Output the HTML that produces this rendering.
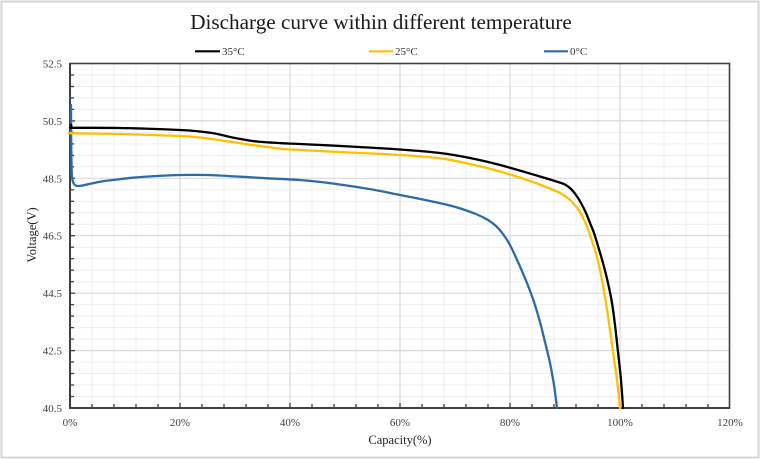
<!DOCTYPE html>
<html><head><meta charset="utf-8"><style>
html,body{margin:0;padding:0;background:#fff;}
svg{display:block;}
</style></head><body>
<svg id="chart" width="761" height="459" viewBox="0 0 761 459" xmlns="http://www.w3.org/2000/svg">
<rect x="0" y="0" width="761" height="459" fill="#fff"/>
<rect x="1.5" y="1.5" width="757" height="456" fill="none" stroke="#d6d6d6" stroke-width="2"/>
<text x="381" y="29" text-anchor="middle" font-family="Liberation Serif, serif" font-size="21.2" fill="#1a1a1a">Discharge curve within different temperature</text>
<!-- legend -->
<line x1="195" y1="51.3" x2="220" y2="51.3" stroke="#000" stroke-width="2.2"/>
<text x="222" y="55" font-family="Liberation Serif, serif" font-size="11" fill="#333">35°C</text>
<line x1="369" y1="51.3" x2="393" y2="51.3" stroke="#FFC000" stroke-width="2.2"/>
<text x="395" y="55" font-family="Liberation Serif, serif" font-size="11" fill="#333">25°C</text>
<line x1="544" y1="51.3" x2="568" y2="51.3" stroke="#2E6BA6" stroke-width="2.2"/>
<text x="570" y="55" font-family="Liberation Serif, serif" font-size="11" fill="#333">0°C</text>
<!-- grid -->
<g stroke="#efefef" stroke-width="1">
<line x1="92" y1="63.5" x2="92" y2="408"/><line x1="114" y1="63.5" x2="114" y2="408"/><line x1="136" y1="63.5" x2="136" y2="408"/><line x1="158" y1="63.5" x2="158" y2="408"/>
<line x1="202" y1="63.5" x2="202" y2="408"/><line x1="224" y1="63.5" x2="224" y2="408"/><line x1="246" y1="63.5" x2="246" y2="408"/><line x1="268" y1="63.5" x2="268" y2="408"/>
<line x1="312" y1="63.5" x2="312" y2="408"/><line x1="334" y1="63.5" x2="334" y2="408"/><line x1="356" y1="63.5" x2="356" y2="408"/><line x1="378" y1="63.5" x2="378" y2="408"/>
<line x1="422" y1="63.5" x2="422" y2="408"/><line x1="444" y1="63.5" x2="444" y2="408"/><line x1="466" y1="63.5" x2="466" y2="408"/><line x1="488" y1="63.5" x2="488" y2="408"/>
<line x1="532" y1="63.5" x2="532" y2="408"/><line x1="554" y1="63.5" x2="554" y2="408"/><line x1="576" y1="63.5" x2="576" y2="408"/><line x1="598" y1="63.5" x2="598" y2="408"/>
<line x1="642" y1="63.5" x2="642" y2="408"/><line x1="664" y1="63.5" x2="664" y2="408"/><line x1="686" y1="63.5" x2="686" y2="408"/><line x1="708" y1="63.5" x2="708" y2="408"/>
<line x1="70" y1="75" x2="729.5" y2="75"/><line x1="70" y1="86.5" x2="729.5" y2="86.5"/><line x1="70" y1="97.9" x2="729.5" y2="97.9"/><line x1="70" y1="109.4" x2="729.5" y2="109.4"/>
<line x1="70" y1="132.4" x2="729.5" y2="132.4"/><line x1="70" y1="143.9" x2="729.5" y2="143.9"/><line x1="70" y1="155.4" x2="729.5" y2="155.4"/><line x1="70" y1="166.8" x2="729.5" y2="166.8"/>
<line x1="70" y1="189.8" x2="729.5" y2="189.8"/><line x1="70" y1="201.3" x2="729.5" y2="201.3"/><line x1="70" y1="212.8" x2="729.5" y2="212.8"/><line x1="70" y1="224.2" x2="729.5" y2="224.2"/>
<line x1="70" y1="247.2" x2="729.5" y2="247.2"/><line x1="70" y1="258.7" x2="729.5" y2="258.7"/><line x1="70" y1="270.2" x2="729.5" y2="270.2"/><line x1="70" y1="281.7" x2="729.5" y2="281.7"/>
<line x1="70" y1="304.6" x2="729.5" y2="304.6"/><line x1="70" y1="316.1" x2="729.5" y2="316.1"/><line x1="70" y1="327.6" x2="729.5" y2="327.6"/><line x1="70" y1="339.1" x2="729.5" y2="339.1"/>
<line x1="70" y1="362" x2="729.5" y2="362"/><line x1="70" y1="373.5" x2="729.5" y2="373.5"/><line x1="70" y1="385" x2="729.5" y2="385"/><line x1="70" y1="396.5" x2="729.5" y2="396.5"/>
</g>
<g stroke="#d9d9d9" stroke-width="1.2">
<line x1="180" y1="63.5" x2="180" y2="408"/><line x1="290" y1="63.5" x2="290" y2="408"/><line x1="400" y1="63.5" x2="400" y2="408"/><line x1="510" y1="63.5" x2="510" y2="408"/><line x1="620" y1="63.5" x2="620" y2="408"/>
<line x1="70" y1="120.9" x2="729.5" y2="120.9"/><line x1="70" y1="178.3" x2="729.5" y2="178.3"/><line x1="70" y1="235.7" x2="729.5" y2="235.7"/><line x1="70" y1="293.2" x2="729.5" y2="293.2"/><line x1="70" y1="350.6" x2="729.5" y2="350.6"/>
</g>
<!-- ticks -->
<g stroke="#404040" stroke-width="1.3">
<line x1="70" y1="75" x2="74" y2="75"/><line x1="70" y1="86.5" x2="74" y2="86.5"/><line x1="70" y1="97.9" x2="74" y2="97.9"/><line x1="70" y1="109.4" x2="74" y2="109.4"/><line x1="70" y1="120.9" x2="75" y2="120.9"/>
<line x1="70" y1="132.4" x2="74" y2="132.4"/><line x1="70" y1="143.9" x2="74" y2="143.9"/><line x1="70" y1="155.4" x2="74" y2="155.4"/><line x1="70" y1="166.8" x2="74" y2="166.8"/><line x1="70" y1="178.3" x2="75" y2="178.3"/>
<line x1="70" y1="189.8" x2="74" y2="189.8"/><line x1="70" y1="201.3" x2="74" y2="201.3"/><line x1="70" y1="212.8" x2="74" y2="212.8"/><line x1="70" y1="224.2" x2="74" y2="224.2"/><line x1="70" y1="235.7" x2="75" y2="235.7"/>
<line x1="70" y1="247.2" x2="74" y2="247.2"/><line x1="70" y1="258.7" x2="74" y2="258.7"/><line x1="70" y1="270.2" x2="74" y2="270.2"/><line x1="70" y1="281.7" x2="74" y2="281.7"/><line x1="70" y1="293.2" x2="75" y2="293.2"/>
<line x1="70" y1="304.6" x2="74" y2="304.6"/><line x1="70" y1="316.1" x2="74" y2="316.1"/><line x1="70" y1="327.6" x2="74" y2="327.6"/><line x1="70" y1="339.1" x2="74" y2="339.1"/><line x1="70" y1="350.6" x2="75" y2="350.6"/>
<line x1="70" y1="362" x2="74" y2="362"/><line x1="70" y1="373.5" x2="74" y2="373.5"/><line x1="70" y1="385" x2="74" y2="385"/><line x1="70" y1="396.5" x2="74" y2="396.5"/>
<line x1="92" y1="408" x2="92" y2="404"/><line x1="114" y1="408" x2="114" y2="404"/><line x1="136" y1="408" x2="136" y2="404"/><line x1="158" y1="408" x2="158" y2="404"/><line x1="180" y1="408" x2="180" y2="403"/>
<line x1="202" y1="408" x2="202" y2="404"/><line x1="224" y1="408" x2="224" y2="404"/><line x1="246" y1="408" x2="246" y2="404"/><line x1="268" y1="408" x2="268" y2="404"/><line x1="290" y1="408" x2="290" y2="403"/>
<line x1="312" y1="408" x2="312" y2="404"/><line x1="334" y1="408" x2="334" y2="404"/><line x1="356" y1="408" x2="356" y2="404"/><line x1="378" y1="408" x2="378" y2="404"/><line x1="400" y1="408" x2="400" y2="403"/>
<line x1="422" y1="408" x2="422" y2="404"/><line x1="444" y1="408" x2="444" y2="404"/><line x1="466" y1="408" x2="466" y2="404"/><line x1="488" y1="408" x2="488" y2="404"/><line x1="510" y1="408" x2="510" y2="403"/>
<line x1="532" y1="408" x2="532" y2="404"/><line x1="554" y1="408" x2="554" y2="404"/><line x1="576" y1="408" x2="576" y2="404"/><line x1="598" y1="408" x2="598" y2="404"/><line x1="620" y1="408" x2="620" y2="403"/>
<line x1="642" y1="408" x2="642" y2="404"/><line x1="664" y1="408" x2="664" y2="404"/><line x1="686" y1="408" x2="686" y2="404"/><line x1="708" y1="408" x2="708" y2="404"/>
</g>
<!-- axes frame -->
<rect x="70" y="63.5" width="659.5" height="344.5" fill="none" stroke="#404040" stroke-width="1.6"/>
<line x1="70" y1="63" x2="70" y2="409" stroke="#404040" stroke-width="2"/>
<line x1="69" y1="408" x2="730" y2="408" stroke="#404040" stroke-width="2"/>
<!-- series (drawn over axes) -->
<g fill="none" stroke-width="2.3" stroke-linejoin="round" stroke-linecap="round">
<polyline class="s" stroke="#2E6BA6" points="71,105 71.2,140 71.5,165 72,177 73,182 74.5,184.5 76.5,185.8 79,186 85,185 100,181.7 117,179.5 133,177.7 157,176 180,175 207,175 237,176.5 267,178.3 300,180 325,182.5 350,186 375,190 400,195 430,201 450,205.5 462,209 477,214.5 488,220 496,226 503,234 510,245 518,262 527,283 534,302 540,322 545,342 550,363 554,385 557,408"/>
<polyline class="s" stroke="#FFC000" points="71,133 73,133.3 120,134 180,136 200,137.5 215,139.5 230,141.7 245,144 260,146 283,149 300,150 350,152.5 400,155 440,158.3 470,164 500,171.5 530,181 550,188.5 560,193 567,197.5 573,203 580,212 585,222 589,232 593,244 597,257 601,275 605,297 609,323 613,352 617,380 620,408"/>
<polyline class="s" stroke="#000000" points="71,125 72,127.5 74,127.8 120,128 180,130 200,131.5 215,133.5 230,137 245,139.8 257,141.5 283,143.3 300,144 350,146.5 400,149.5 440,153 470,158 500,165 540,176.5 558,182 565,184.5 571,189 576,195 581,203 586,213 590,223 594,233 598,246 603,263 608,283 612,303 615,325 618,352 621,380 623,408"/>
</g>
<!-- y labels -->
<g font-family="Liberation Serif, serif" font-size="11" fill="#404040" text-anchor="end">
<text x="62" y="67.5">52.5</text>
<text x="62" y="124.9">50.5</text>
<text x="62" y="182.3">48.5</text>
<text x="62" y="239.7">46.5</text>
<text x="62" y="297.2">44.5</text>
<text x="62" y="354.6">42.5</text>
<text x="62" y="412">40.5</text>
</g>
<g font-family="Liberation Serif, serif" font-size="11" fill="#404040" text-anchor="middle">
<text x="70" y="426">0%</text>
<text x="180" y="426">20%</text>
<text x="290" y="426">40%</text>
<text x="400" y="426">60%</text>
<text x="510" y="426">80%</text>
<text x="620" y="426">100%</text>
<text x="730" y="426">120%</text>
</g>
<text x="400" y="444" text-anchor="middle" font-family="Liberation Serif, serif" font-size="12.5" fill="#222">Capacity(%)</text>
<text transform="translate(36,235) rotate(-90)" text-anchor="middle" font-family="Liberation Serif, serif" font-size="12.5" fill="#222">Voltage(V)</text>
</svg>
<script>
(function(){
  var NS="http://www.w3.org/2000/svg";
  var pls=document.querySelectorAll("polyline.s");
  for(var k=0;k<pls.length;k++){
    var pl=pls[k];
    var raw=pl.getAttribute("points").trim().split(/\s+/).map(function(s){var a=s.split(",");return [parseFloat(a[0]),parseFloat(a[1])];});
    var d="M"+raw[0][0]+","+raw[0][1];
    for(var i=0;i<raw.length-1;i++){
      var p0=raw[i>0?i-1:i],p1=raw[i],p2=raw[i+1],p3=raw[i+2<raw.length?i+2:i+1];
      var t=1/6;
      var c1x=p1[0]+(p2[0]-p0[0])*t,c1y=p1[1]+(p2[1]-p0[1])*t;
      var c2x=p2[0]-(p3[0]-p1[0])*t,c2y=p2[1]-(p3[1]-p1[1])*t;
      d+=" C"+c1x.toFixed(2)+","+c1y.toFixed(2)+" "+c2x.toFixed(2)+","+c2y.toFixed(2)+" "+p2[0]+","+p2[1];
    }
    var path=document.createElementNS(NS,"path");
    path.setAttribute("d",d);
    path.setAttribute("stroke",pl.getAttribute("stroke"));
    pl.parentNode.replaceChild(path,pl);
  }
})();
</script>
</body></html>
